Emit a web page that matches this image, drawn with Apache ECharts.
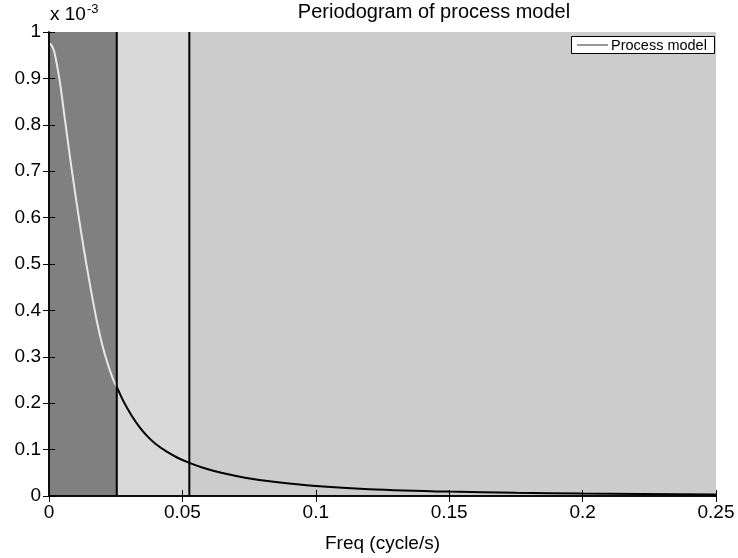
<!DOCTYPE html>
<html>
<head>
<meta charset="utf-8">
<script src="https://cdn.jsdelivr.net/npm/echarts@6/dist/echarts.min.js"></script>
<style>html,body{margin:0;padding:0;background:#fff}#c{width:738px;height:558px}</style>
</head>
<body>
<div id="c"></div>
<script>
// Data (power in units of 1e-3)
const lowFreq  = [0, 0.001, 0.002, 0.004, 0.006, 0.008, 0.010, 0.012, 0.014, 0.016, 0.018, 0.020, 0.022, 0.024, 0.0254];
const lowPower = [0.976, 0.971, 0.957, 0.895, 0.81, 0.725, 0.645, 0.57, 0.50, 0.435, 0.375, 0.325, 0.285, 0.252, 0.235];
const highFreq  = [0.0254, 0.028, 0.031, 0.034, 0.037, 0.040, 0.044, 0.048, 0.0526, 0.058, 0.065, 0.074, 0.085, 0.10, 0.12, 0.15, 0.175, 0.20, 0.25];
const highPower = [0.235, 0.203, 0.173, 0.148, 0.128, 0.112, 0.096, 0.083, 0.0714, 0.0605, 0.0495, 0.039, 0.030, 0.0215, 0.0148, 0.0095, 0.0070, 0.0054, 0.0034];
const bandEdges = [0, 0.0254, 0.0526, 0.25];
const bandColors = ['#808080', '#d9d9d9', '#cccccc'];
const titleText = 'Periodogram of process model';
const xName = 'Freq (cycle/s)';
const legendName = 'Process model';

const chart = echarts.init(document.getElementById('c'), null, {renderer: 'canvas'});
const FONT = 'Liberation Sans, Arial, Helvetica, sans-serif';
const lbl = {color: '#000', fontSize: 19, fontFamily: FONT};

function zip(a, b) { return a.map((v, i) => [v, b[i]]); }

const areas = [];
for (let i = 0; i < bandColors.length; i++) {
  areas.push([{xAxis: bandEdges[i], itemStyle: {color: bandColors[i]}}, {xAxis: bandEdges[i + 1]}]);
}

const axisCommon = {
  type: 'value', min: 0, splitLine: {show: false}, z: 10,
  axisLine: {show: true, lineStyle: {color: '#000', width: 1.5}},
  axisTick: {show: true, inside: true, length: 6, lineStyle: {color: '#000', width: 1}}
};

const boundarySeries = [bandEdges[1], bandEdges[2]].map(b => ({
  type: 'line', data: [[b, 0], [b, 1]], z: 4, silent: true, symbol: 'none',
  lineStyle: {color: '#000', width: 2}
}));

chart.setOption({
  animation: false,
  backgroundColor: '#fff',
  grid: {left: 49, right: 22, top: 32, bottom: 61},
  xAxis: [
    Object.assign({}, axisCommon, {
      max: 0.25, interval: 0.05, position: 'bottom',
      axisLabel: Object.assign({margin: 7, formatter: v => String(+v.toFixed(2))}, lbl),
      name: xName, nameLocation: 'middle', nameGap: 38,
      nameTextStyle: {color: '#000', fontSize: 19, fontFamily: FONT}
    }),
    Object.assign({}, axisCommon, {max: 0.25, interval: 0.05, position: 'top', axisLabel: {show: false}})
  ],
  yAxis: [
    Object.assign({}, axisCommon, {
      max: 1, interval: 0.1, position: 'left',
      axisLabel: Object.assign({margin: 8, formatter: v => String(+v.toFixed(1))}, lbl)
    }),
    Object.assign({}, axisCommon, {max: 1, interval: 0.1, position: 'right', axisLabel: {show: false}})
  ],
  series: [
    {
      type: 'line', data: [[0, 0]], z: 1, silent: true, symbol: 'none',
      lineStyle: {width: 0, opacity: 0},
      markArea: {silent: true, data: areas}
    },
    {
      name: legendName, type: 'line', data: zip(lowFreq, lowPower), z: 3,
      symbol: 'none', smooth: 0.3,
      lineStyle: {color: '#e8e8e8', width: 2}
    },
    {
      name: legendName, type: 'line', data: zip(highFreq, highPower), z: 3,
      symbol: 'none', smooth: 0.3,
      lineStyle: {color: '#000', width: 2}
    }
  ].concat(boundarySeries),
  graphic: [
    {type: 'text', left: 50, top: 5, style: {text: 'x 10', fill: '#000', font: '19px ' + FONT}},
    {type: 'text', left: 87, top: 3, style: {text: '-3', fill: '#000', font: '13px ' + FONT}},
    {type: 'text', x: 434, y: 2, style: {text: titleText, fill: '#000', font: '20px ' + FONT, textAlign: 'center', textVerticalAlign: 'top'}},
    {type: 'rect', z: 20, shape: {x: 571.5, y: 36.5, width: 143, height: 17}, style: {fill: '#fff', stroke: '#000', lineWidth: 1}},
    {type: 'line', z: 21, shape: {x1: 577, y1: 45, x2: 608, y2: 45}, style: {stroke: '#333', lineWidth: 1}},
    {type: 'text', z: 21, x: 611, y: 45.5, style: {text: legendName, fill: '#000', font: '14.5px ' + FONT, textVerticalAlign: 'middle'}}
  ]
});
</script>
</body>
</html>
